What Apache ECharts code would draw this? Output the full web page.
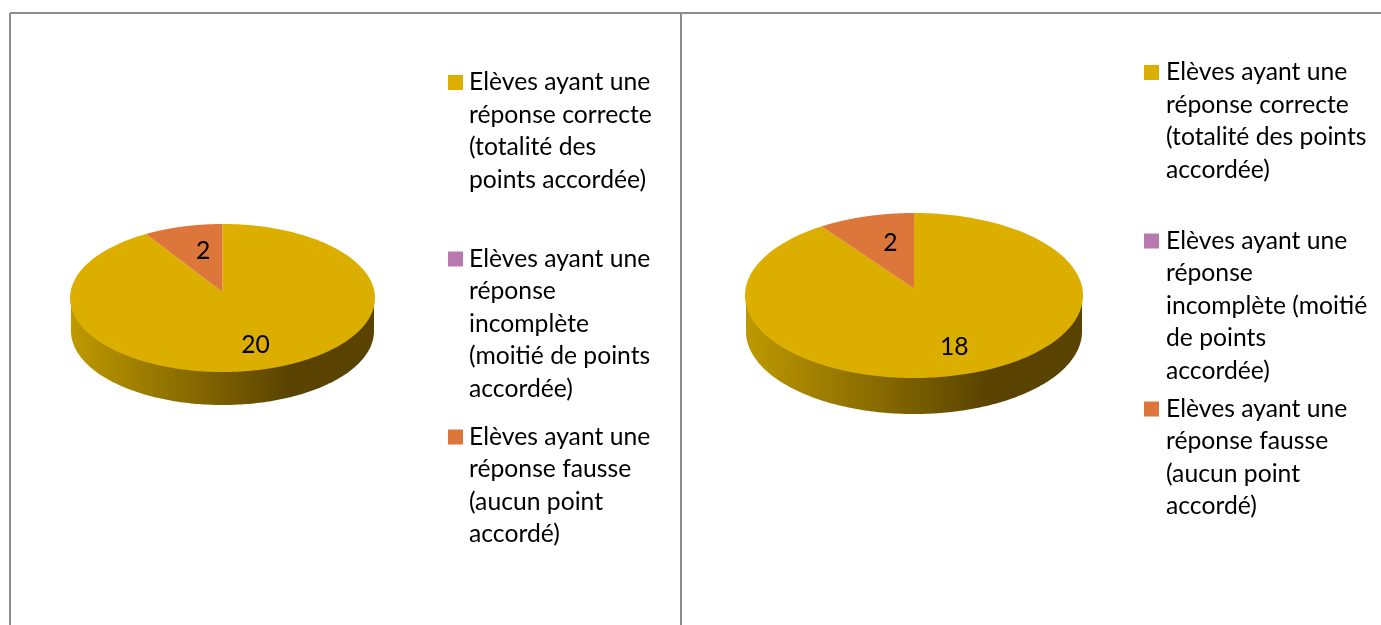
<!DOCTYPE html>
<html><head><meta charset="utf-8">
<style>html,body{margin:0;padding:0;background:#fff}#c{width:1381px;height:625px}</style>
<script src="https://cdn.jsdelivr.net/npm/echarts@6/dist/echarts.min.js"></script>
</head><body><div id="c"></div>
<script>
const categories = [
  "Elèves ayant une réponse correcte (totalité des points accordée)",
  "Elèves ayant une réponse incomplète (moitié de points accordée)",
  "Elèves ayant une réponse fausse (aucun point accordé)"
];
const valuesLeft = [20, 0, 2];
const valuesRight = [18, 0, 2];
const wrappedLeft = [
  "Elèves ayant une\nréponse correcte\n(totalité des\npoints accordée)",
  "Elèves ayant une\nréponse\nincomplète\n(moitié de points\naccordée)",
  "Elèves ayant une\nréponse fausse\n(aucun point\naccordé)"
];
const wrappedRight = [
  "Elèves ayant une\nréponse correcte\n(totalité des points\naccordée)",
  "Elèves ayant une\nréponse\nincomplète (moitié\nde points\naccordée)",
  "Elèves ayant une\nréponse fausse\n(aucun point\naccordé)"
];
const colors = ["#DCAE00", "#B879B1", "#DD763A"];
const FONT = "Lato";
const FS = 24.7, LH = 32.5;

const layouts = [
  {values: valuesLeft, wrapped: wrappedLeft, cx: 222.5, cy: 298, rx: 152.5, ry: 74, apexY: 292, depth: 33,
   legendX: 448, swatchW: 16, legendMid: [82.5, 259, 437]},
  {values: valuesRight, wrapped: wrappedRight, cx: 914, cy: 295.5, rx: 169, ry: 82.5, apexY: 288.5, depth: 36,
   legendX: 1144, swatchW: 17, legendMid: [72.5, 241, 409]}
];

const rad = d => d * Math.PI / 180;
// slight foreshortening of the back of the tilted pie
const warp = d => d > 180 ? 360 - (360 - d) * 0.92 : d;

function sliceSeries(L, i) {
  const total = L.values.reduce((a, b) => a + b, 0);
  const before = L.values.slice(0, i).reduce((a, b) => a + b, 0);
  return {
    type: 'custom', name: categories[i], coordinateSystem: 'none',
    data: [[L.values[i]]], itemStyle: {color: colors[i]}, silent: true, animation: false,
    renderItem(params, api) {
      const v = api.value(0);
      if (!v) return {type: 'group', children: []};
      const a0 = before / total * 360, a1 = (before + v) / total * 360;
      const s = warp(a0), e = warp(a1);
      const pts = [[L.cx, L.apexY]];
      for (let k = 0; k <= 240; k++) {
        const t = rad(s + (e - s) * k / 240);
        pts.push([L.cx + L.rx * Math.sin(t), L.cy - L.ry * Math.cos(t)]);
      }
      const children = [];
      if (i === 0) {
        const side = [];
        for (let k = 0; k <= 180; k++) {
          const t = rad(270 - k);
          side.push([L.cx + (L.rx - 1) * Math.sin(t), L.cy + L.depth - L.ry * Math.cos(t)]);
        }
        side.push([L.cx + L.rx - 1, L.cy], [L.cx - L.rx + 1, L.cy]);
        children.push({type: 'polygon', shape: {points: side}, style: {
          fill: new echarts.graphic.LinearGradient(0, 0, 1, 0, [
            {offset: 0, color: '#BE9900'}, {offset: 0.72, color: '#5A4300'}, {offset: 1, color: '#5A4300'}
          ])}});
      }
      children.push({type: 'polygon', shape: {points: pts}, style: {fill: colors[i]}});
      const mid = rad((a0 + a1) / 2);
      const major = i === 0;
      const kx = major ? 0.77 : 0.45, ky = major ? 0.685 : 0.63;
      const downR = L.cy + L.ry - L.apexY, upR = L.apexY - (L.cy - L.ry);
      const c = Math.cos(mid);
      children.push({type: 'text', z2: 10, style: {
        text: String(v), x: L.cx + L.rx * kx * Math.sin(mid),
        y: L.apexY - (c > 0 ? upR : downR) * ky * c,
        align: 'center', verticalAlign: 'middle', fill: '#000', font: FS + 'px ' + FONT
      }});
      return {type: 'group', children};
    }
  };
}

const series = [], legends = [];
layouts.forEach(L => {
  categories.forEach((name, i) => {
    series.push(sliceSeries(L, i));
    const n = L.wrapped[i].split('\n').length;
    // legend text is centred on its swatch: blank lines above put the first real line level with it
    const height = (2 * n - 1) * LH;
    legends.push({
      show: true, data: [name], left: L.legendX, top: L.legendMid[i] - height / 2, orient: 'vertical', padding: 0,
      // 15px square inside a slightly wider symbol box, to widen the gap before the text
      icon: 'path://M0 0H15V15H0Z M' + L.swatchW + ' 15L' + L.swatchW + ' 15Z',
      itemWidth: L.swatchW, itemHeight: 15, selectedMode: false,
      formatter: () => '\n'.repeat(n - 1) + L.wrapped[i],
      textStyle: {fontFamily: FONT, fontSize: FS, color: '#000', lineHeight: LH}
    });
  });
});

const frame = [
  {x1: 10, y1: 13, x2: 1381, y2: 13},
  {x1: 10, y1: 13, x2: 10, y2: 625},
  {x1: 681, y1: 13, x2: 681, y2: 625}
].map(s => ({type: 'line', shape: s, style: {stroke: '#8C8C8C', lineWidth: 2}, silent: true}));

const chart = echarts.init(document.getElementById('c'), null, {renderer: 'canvas'});
chart.setOption({backgroundColor: '#fff', animation: false, legend: legends, series, graphic: frame, tooltip: {show: false}});
</script></body></html>
